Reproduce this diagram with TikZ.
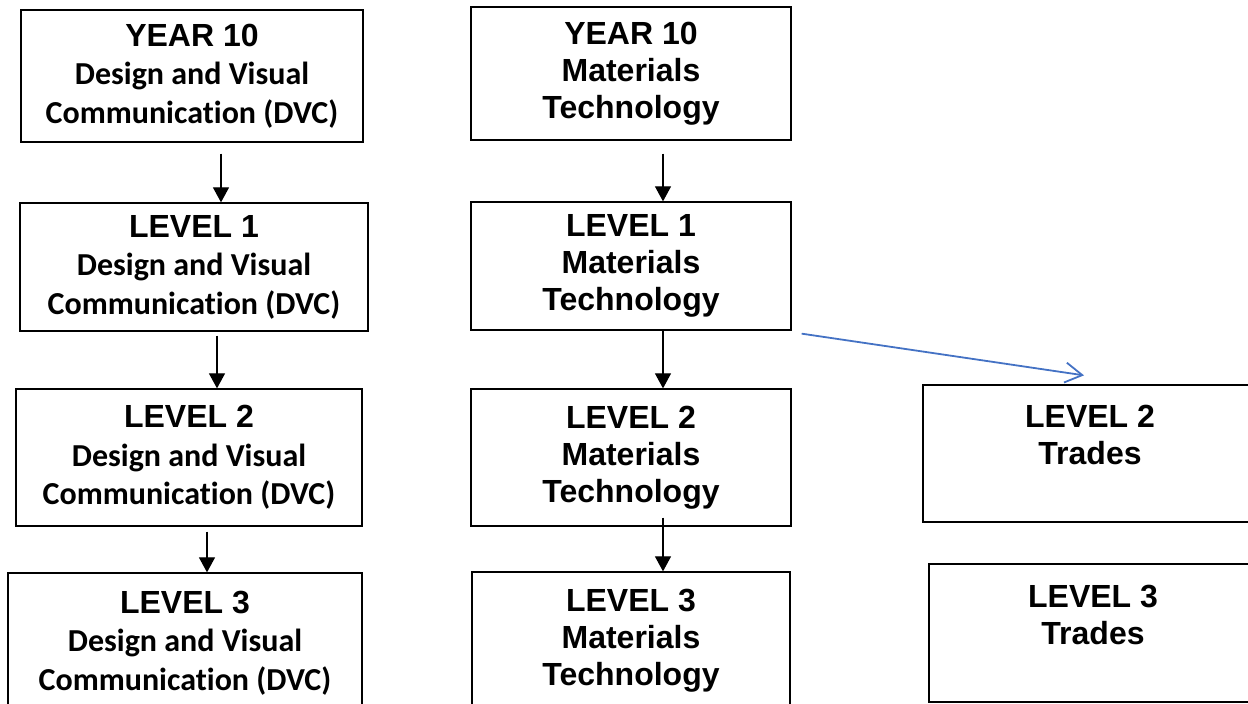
\documentclass[tikz,border=0pt]{standalone}
\usepackage{fontspec}
\setmainfont{Liberation Sans}
\newfontfamily\calibri[Ligatures=NoCommon]{Carlito}
\usetikzlibrary{arrows.meta}
\definecolor{linkblue}{RGB}{68,114,196}
\newcommand{\dvcline}[1]{{\calibri\fontsize{32}{38.5}\selectfont #1}}

\begin{document}
\begin{tikzpicture}[
  x=1pt, y=-1pt,
  box/.style={draw, line width=1.3pt, align=center, inner sep=0pt,
    font=\bfseries\fontsize{32}{37}\selectfont},
  dvcbox/.style={box, font=\bfseries\fontsize{32}{38.5}\selectfont},
  down/.style={line width=1.2pt, -{Triangle[length=15pt,width=16pt]}},
  link/.style={draw=linkblue, line width=1.8pt, -{Straight Barb[length=17pt,width=20pt]}}
]
\useasboundingbox (0,0) rectangle (1248,704);
\clip (0,0) rectangle (1248,704);

% ======================================================
% =============== DVC ==================================
% ======================================================
\node (dvc0) [dvcbox, minimum width=342pt, minimum height=132pt] at (192,76)
  {YEAR 10\\\dvcline{Design and Visual}\\\dvcline{Communication (DVC)}};
\node (dvc1) [dvcbox, minimum width=348pt, minimum height=128pt] at (194,267)
  {LEVEL 1\\\dvcline{Design and Visual}\\\dvcline{Communication (DVC)}};
\node (dvc2) [dvcbox, minimum width=346pt, minimum height=137pt] at (189,457.5)
  {LEVEL 2\\\dvcline{Design and Visual}\\\dvcline{Communication (DVC)}};
\node (dvc3) [dvcbox, minimum width=354pt, minimum height=140pt] at (185,643)
  {LEVEL 3\\\dvcline{Design and Visual}\\\dvcline{Communication (DVC)}};

\draw[down] ([xshift=29pt,yshift=-11pt]dvc0.south) -- ([xshift=29pt]dvc0.south |- dvc1.north);
\draw[down] ([xshift=23pt,yshift=-4pt]dvc1.south) -- ([xshift=23pt]dvc1.south |- dvc2.north);
\draw[down] ([xshift=18pt,yshift=-5pt]dvc2.south) -- ([xshift=18pt]dvc2.south |- dvc3.north);

% ======================================================
% =============== MATERIALS TECHNOLOGY =================
% ======================================================
\node (mt0) [box, minimum width=320pt, minimum height=133pt] at (631,73.5)
  {YEAR 10\\Materials\\Technology};
\node (mt1) [box, minimum width=320pt, minimum height=128pt] at (631,266)
  {LEVEL 1\\Materials\\Technology};
\node (mt2) [box, minimum width=320pt, minimum height=137pt] at (631,457.5)
  {LEVEL 2\\Materials\\Technology};
\node (mt3) [box, minimum width=318pt, minimum height=138pt] at (631,641)
  {LEVEL 3\\Materials\\Technology};

\draw[down] ([xshift=32pt,yshift=-13pt]mt0.south) -- ([xshift=32pt]mt0.south |- mt1.north);
\draw[down] ([xshift=32pt]mt1.south) -- ([xshift=32pt]mt1.south |- mt2.north);
\draw[down] ([xshift=32pt,yshift=9pt]mt2.south) -- ([xshift=32pt]mt2.south |- mt3.north);

% ======================================================
% =============== TRADES ===============================
% ======================================================
\node (tr2) [box, minimum width=334pt, minimum height=137pt] at (1090,453.5)
  {LEVEL 2\\Trades\\\mbox{}};
\node (tr3) [box, minimum width=328pt, minimum height=138pt] at (1093,633)
  {LEVEL 3\\Trades\\\mbox{}};

\draw[link] ([xshift=10pt,yshift=-3pt]mt1.south east) -- ([xshift=-6pt,yshift=9pt]tr2.north);

\end{tikzpicture}
\end{document}
